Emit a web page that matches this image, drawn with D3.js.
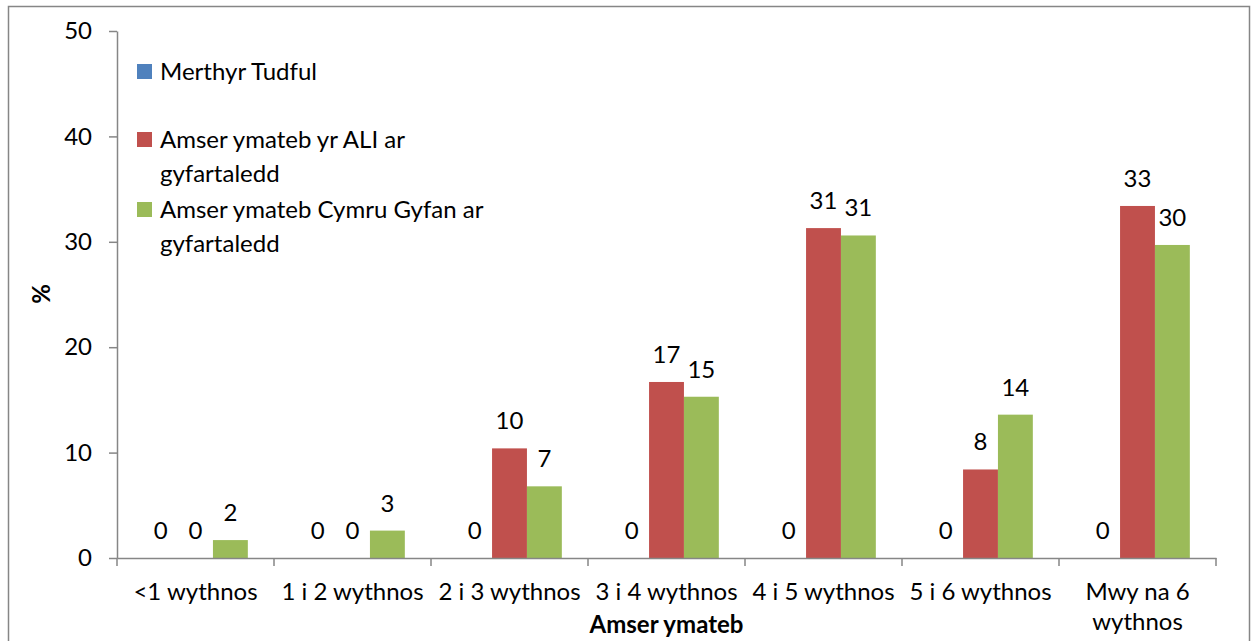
<!DOCTYPE html>
<html>
<head>
<meta charset="utf-8">
<script src="https://cdnjs.cloudflare.com/ajax/libs/d3/7.8.5/d3.min.js"></script>
<style>
    body { margin: 0; background: #fff; }
    svg text { font-family: Lato, "Liberation Sans", sans-serif; fill: #000; }
</style>
</head>
<body>
<svg class="responseChart"></svg>
<script>
// categories (x axis)
const categories = ["<1 wythnos", "1 i 2 wythnos", "2 i 3 wythnos", "3 i 4 wythnos",
                    "4 i 5 wythnos", "5 i 6 wythnos", "Mwy na 6 wythnos"];

// series names
const seriesNames = ["Merthyr Tudful",
                     "Amser ymateb yr ALI ar gyfartaledd",
                     "Amser ymateb Cymru Gyfan ar gyfartaledd"];

// series values (%)
const merthyrValues = [0, 0, 0, 0, 0, 0, 0];
const aliValues     = [0, 0, 10.4, 16.7, 31.3, 8.4, 33.4];
const cymruValues   = [1.7, 2.6, 6.8, 15.3, 30.6, 13.6, 29.7];

const yTicks = [0, 10, 20, 30, 40, 50];
const seriesColors = ["#4F81BD", "#C0504D", "#9BBB59"];

drawChart();

function drawChart() {
    const W = 1252, H = 641;
    const axisColor = "#868686";
    const fs = "24px";

    const svg = d3.select(".responseChart")
        .attr("width", W)
        .attr("height", H);

    // outer chart frame
    svg.append("rect")
        .attr("x", 8.5).attr("y", 6.5)
        .attr("width", 1241).attr("height", 660)
        .attr("fill", "none")
        .attr("stroke", axisColor)
        .attr("stroke-width", 1.5);

    const x = d3.scaleBand()
        .domain(categories)
        .range([117, 1216]);

    const xSub = d3.scaleBand()
        .domain(d3.range(seriesNames.length))
        .range([0, x.bandwidth()])
        .paddingInner(0)
        .paddingOuter(0.75);

    const y = d3.scaleLinear()
        .domain([0, 50])
        .range([558, 31]);

    const allValues = [merthyrValues, aliValues, cymruValues];
    const rows = [];
    allValues.forEach((vals, s) => {
        vals.forEach((v, i) => rows.push({s: s, cat: categories[i], v: v}));
    });

    // bars
    svg.append("g").selectAll("rect")
        .data(rows)
        .enter().append("rect")
        .attr("x", d => x(d.cat) + xSub(d.s))
        .attr("y", d => y(d.v))
        .attr("width", xSub.bandwidth())
        .attr("height", d => y(0) - y(d.v))
        .attr("fill", d => seriesColors[d.s]);

    // data labels
    svg.append("g").selectAll("text")
        .data(rows)
        .enter().append("text")
        .attr("x", d => x(d.cat) + xSub(d.s) + xSub.bandwidth() / 2)
        .attr("y", d => y(d.v) - 19)
        .attr("text-anchor", "middle")
        .style("font-size", fs)
        .text(d => Math.round(d.v));

    // Y axis
    const yAxis = svg.append("g")
        .attr("transform", "translate(117,0)")
        .call(d3.axisLeft(y).tickValues(yTicks).tickSize(8).tickSizeOuter(0).tickPadding(17));
    yAxis.select(".domain").attr("stroke", axisColor).attr("stroke-width", 1.5);
    yAxis.selectAll(".tick line").attr("stroke", axisColor).attr("stroke-width", 1.5);
    yAxis.selectAll(".tick text")
        .style("font-size", fs)
        .style("font-family", "Lato");

    // X axis
    const xAxis = svg.append("g")
        .attr("transform", `translate(0,${y(0)})`)
        .call(d3.axisBottom(x).tickSize(0).tickSizeOuter(0).tickPadding(25));
    xAxis.select(".domain").attr("stroke", axisColor).attr("stroke-width", 1.5);
    xAxis.selectAll(".tick text")
        .style("font-size", fs)
        .style("font-family", "Lato")
        .attr("dy", "0.71em")
        .call(wrap, x.bandwidth() - 4);

    const edges = categories.map(c => x(c)).concat([x.range()[1]]);
    xAxis.selectAll(".edge")
        .data(edges)
        .enter().append("line")
        .attr("class", "edge")
        .attr("x1", d => d).attr("x2", d => d)
        .attr("y1", 0).attr("y2", 8)
        .attr("stroke", axisColor)
        .attr("stroke-width", 1.5);

    // axis titles
    svg.append("text")
        .attr("x", (x.range()[0] + x.range()[1]) / 2)
        .attr("y", 633)
        .attr("text-anchor", "middle")
        .style("font-size", fs)
        .style("font-weight", "700")
        .text("Amser ymateb");

    svg.append("text")
        .attr("transform", "translate(50,294) rotate(-90)")
        .attr("text-anchor", "middle")
        .style("font-size", fs)
        .style("font-weight", "700")
        .text("%");

    // legend
    const legendLines = [["Merthyr Tudful"],
                         ["Amser ymateb yr ALI ar", "gyfartaledd"],
                         ["Amser ymateb Cymru Gyfan ar", "gyfartaledd"]];
    const legendBase = [80, 148, 218];
    const legend = svg.selectAll(".legend")
        .data(legendLines)
        .enter().append("g")
        .attr("class", "legend")
        .attr("transform", (d, i) => `translate(137,${legendBase[i]})`);

    legend.append("rect")
        .attr("x", 0)
        .attr("y", -16)
        .attr("width", 15)
        .attr("height", 15)
        .style("fill", (d, i) => seriesColors[i]);

    legend.append("text")
        .attr("x", 23)
        .style("font-size", fs)
        .selectAll("tspan")
        .data(d => d)
        .enter().append("tspan")
        .attr("x", 23)
        .attr("y", (d, i) => i * 34)
        .text(d => d);
}

function wrap(texts, width) {
    texts.each(function() {
        const text = d3.select(this);
        const words = text.text().split(/\s+/);
        const yy = text.attr("y");
        const dy = parseFloat(text.attr("dy"));
        text.text(null);
        let line = [];
        let lineNo = 0;
        let tspan = text.append("tspan").attr("x", 0).attr("y", yy).attr("dy", dy + "em");
        words.forEach(w => {
            line.push(w);
            tspan.text(line.join(" "));
            if (tspan.node().getComputedTextLength() > width && line.length > 1) {
                line.pop();
                tspan.text(line.join(" "));
                line = [w];
                lineNo++;
                tspan = text.append("tspan").attr("x", 0).attr("y", yy)
                    .attr("dy", (lineNo * 1.25 + dy) + "em").text(w);
            }
        });
    });
}
</script>
</body>
</html>
